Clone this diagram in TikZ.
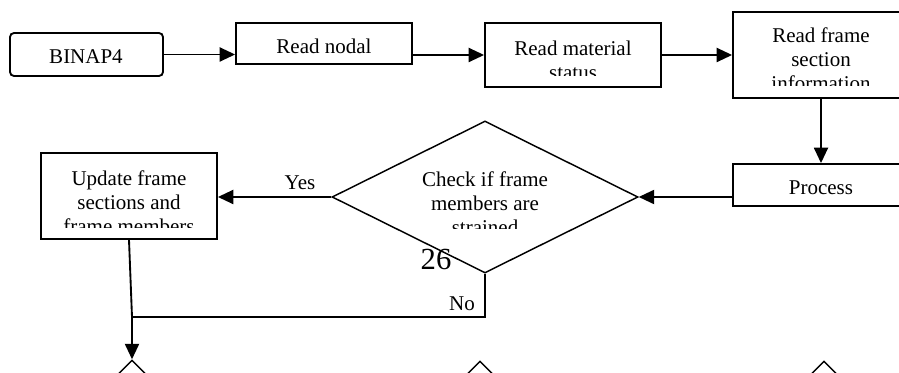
\documentclass[tikz,border=0pt]{standalone}
\usepackage{fontspec}
\setmainfont{Liberation Serif}
\usetikzlibrary{shapes.geometric,arrows.meta}
\tikzset{
  box/.style={draw=black, line width=1.4pt, inner sep=0pt, minimum width=132pt},
  txt/.style={inner sep=0pt, align=center, font=\fontsize{15.75}{18}\selectfont},
  conn/.style={line width=1.4pt},
  arr/.style={line width=1.4pt, -{Triangle[length=11.5pt,width=10.5pt]}},
  dia/.style={diamond, draw=black, line width=1.1pt, inner sep=0pt},
}
\begin{document}
\begin{tikzpicture}[x=0.75pt,y=-0.75pt]
\clip (0,0) rectangle (899,373);
% boxes
\node[box, rounded corners=3pt, minimum width=114.75pt, minimum height=32.25pt] (binap) at (86.5,54.5) {};
\node[txt] (tbinap) at (86,57) {BINAP4};
\node[box, minimum height=30.75pt] (nodal) at (324,43.5) {};
\node[txt] (tnodal) at (324,46) {Read nodal};
\node[box, minimum height=48pt] (mat) at (573,55) {};
\node[box, minimum height=64.5pt] (frame) at (821,55) {};
\node[box, minimum height=31.5pt] (proc) at (821,185) {};
\node[txt] (tproc) at (821,188) {Process};
\node[box, minimum height=64.5pt] (upd) at (129,196) {};
\node[dia, minimum width=229.5pt, minimum height=114pt] (chk) at (485,197) {};
% clipped texts
\begin{scope}
\clip (486,24) rectangle (660,76);
\node[txt] (tmat) at (573,60) {Read material\\status};
\end{scope}
\begin{scope}
\clip (734,13) rectangle (908,86);
\node[txt] (tframe) at (821,59) {Read frame\\section\\information};
\end{scope}
\begin{scope}
\clip (42,154) rectangle (216,228);
\node[txt] (tupd) at (129,202) {Update frame\\sections and\\frame members};
\end{scope}
\begin{scope}
\clip (400,150) rectangle (570,229);
\node[txt] (tchk) at (485,203) {Check if frame\\members are\\strained};
\end{scope}
% bottom partial diamonds
\node[dia, minimum width=45pt, minimum height=45pt] (d1) at (132,390) {};
\node[dia, minimum width=45pt, minimum height=45pt] (d2) at (480,391) {};
\node[dia, minimum width=45pt, minimum height=45pt] (d3) at (824,391) {};
% connectors
\draw[arr] (binap.east) -- (binap.east -| nodal.west);
\draw[arr] (mat.west -| nodal.east) -- (mat.west);
\draw[arr] (mat.east) -- (frame.west);
\draw[arr] (frame.south) -- (proc.north);
\draw[arr] (chk.east -| proc.west) -- (chk.east);
\draw[arr] (chk.west) -- (chk.west -| upd.east);
\coordinate (j) at (132,317);
\coordinate (k) at (485,317);
\draw[conn] (chk.south) -- (k) -- (j);
\draw[conn] (upd.south) -- (j);
\draw[arr] (j) -- (d1.north);
% labels
\node[txt] (yes) at (300,183) {Yes};
\node[txt] (no) at (462,304) {No};
\node[inner sep=0pt, font=\fontsize{23}{26}\selectfont] (pg) at (436,260) {26};
\end{tikzpicture}
\end{document}
